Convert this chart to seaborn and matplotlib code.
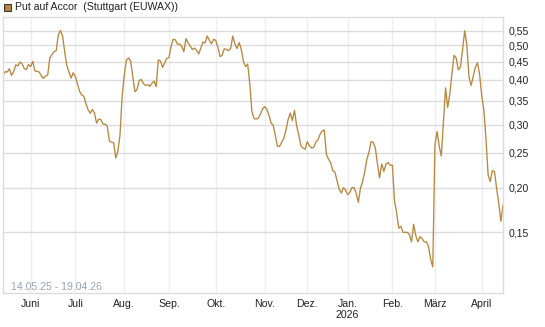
import matplotlib
matplotlib.use("Agg")
import matplotlib.pyplot as plt
import seaborn as sns
import pandas as pd
import numpy as np
from matplotlib.patches import Rectangle
from matplotlib.ticker import FixedLocator, NullLocator, FuncFormatter

# TRADING DAYS (EUWAX), 14.05.25 - 17.04.26
holidays = ["2025-12-24", "2025-12-25", "2025-12-26", "2025-12-31",
            "2026-01-01", "2026-04-03", "2026-04-06"]
dates = pd.bdate_range("2025-05-14", "2026-04-17", freq="C", holidays=holidays)

# CLOSING PRICES (EUR)
prices = [
    0.413, 0.422, 0.421, 0.430, 0.412, 0.422, 0.441, 0.438, 0.449, 0.444,
    0.430, 0.428, 0.442, 0.436, 0.451, 0.424, 0.423, 0.421, 0.411, 0.404,
    0.410, 0.413, 0.461, 0.472, 0.480, 0.483, 0.535, 0.550, 0.531, 0.480,
    0.439, 0.421, 0.405, 0.419, 0.409, 0.390, 0.372, 0.363, 0.360, 0.343,
    0.330, 0.323, 0.331, 0.323, 0.303, 0.311, 0.310, 0.301, 0.301, 0.297,
    0.270, 0.268, 0.267, 0.242, 0.253, 0.281, 0.361, 0.413, 0.455, 0.461,
    0.452, 0.409, 0.371, 0.376, 0.399, 0.401, 0.391, 0.386, 0.388, 0.384,
    0.392, 0.397, 0.383, 0.455, 0.452, 0.434, 0.447, 0.460, 0.462, 0.497,
    0.520, 0.518, 0.504, 0.504, 0.497, 0.480, 0.522, 0.508, 0.497, 0.487,
    0.491, 0.484, 0.473, 0.492, 0.511, 0.508, 0.531, 0.516, 0.505, 0.520,
    0.516, 0.494, 0.465, 0.469, 0.489, 0.487, 0.483, 0.490, 0.531, 0.505,
    0.490, 0.509, 0.487, 0.451, 0.436, 0.443, 0.390, 0.326, 0.312, 0.311,
    0.313, 0.321, 0.332, 0.337, 0.331, 0.319, 0.303, 0.299, 0.279, 0.261,
    0.261, 0.268, 0.275, 0.290, 0.310, 0.323, 0.308, 0.329, 0.298, 0.281,
    0.262, 0.258, 0.256, 0.269, 0.262, 0.258, 0.259, 0.268, 0.272, 0.282,
    0.288, 0.290, 0.248, 0.240, 0.235, 0.223, 0.221, 0.209, 0.198, 0.193,
    0.200, 0.197, 0.191, 0.194, 0.200, 0.200, 0.193, 0.182, 0.199, 0.208,
    0.221, 0.240, 0.251, 0.269, 0.268, 0.258, 0.233, 0.213, 0.233, 0.222,
    0.233, 0.235, 0.231, 0.231, 0.184, 0.170, 0.154, 0.156, 0.150, 0.150,
    0.150, 0.148, 0.141, 0.158, 0.147, 0.141, 0.146, 0.144, 0.141, 0.141,
    0.137, 0.126, 0.120, 0.263, 0.287, 0.262, 0.245, 0.306, 0.380, 0.335,
    0.365, 0.416, 0.469, 0.461, 0.427, 0.435, 0.486, 0.549, 0.502, 0.408,
    0.386, 0.409, 0.434, 0.447, 0.415, 0.361, 0.330, 0.274, 0.217, 0.208,
    0.223, 0.222, 0.199, 0.181, 0.161, 0.179,
]

month_labels = ["Juni", "Juli", "Aug.", "Sep.", "Okt.", "Nov.", "Dez.",
                "Jan.\n2026", "Feb.", "März", "April"]
y_ticks = [0.15, 0.20, 0.25, 0.30, 0.35, 0.40, 0.45, 0.50, 0.55]
title = "Put auf Accor  (Stuttgart (EUWAX))"
period = "14.05.25 - 19.04.26"

LINE = "#b8873d"
GRID_H = "#dcdcdc"
GRID_V = "#eeeeee"

df = pd.DataFrame({"date": dates, "price": prices})
df["day"] = np.arange(len(df))
month_start = df.groupby(df["date"].dt.to_period("M"))["day"].min().iloc[1:]

sns.set_theme(style="white")
plt.rcParams["font.family"] = ["Liberation Sans", "DejaVu Sans"]

W, H = 545, 327
fig = plt.figure(figsize=(W / 100, H / 100), dpi=100)
ax = fig.add_axes([3 / W, 1 - 293 / H, 500 / W, 276 / H])

sns.lineplot(data=df, x="day", y="price", color=LINE, lw=0.95, ax=ax)

ax.set_yscale("log")
ax.set_xlim(0, len(df) - 1)
ax.set_ylim(0.1015, 0.60)

# Y AXIS ON THE RIGHT, GERMAN DECIMAL COMMA
ax.yaxis.tick_right()
ax.yaxis.set_major_locator(FixedLocator(y_ticks))
ax.yaxis.set_minor_locator(NullLocator())
ax.yaxis.set_major_formatter(FuncFormatter(lambda v, p: f"{v:.2f}".replace(".", ",")))

ax.set_xticks(month_start.values)
ax.set_xticklabels(month_labels)

ax.tick_params(axis="both", length=0, labelsize=7.6, colors="#222222")
ax.tick_params(axis="x", pad=4)
ax.tick_params(axis="y", pad=4)
ax.set_xlabel("")
ax.set_ylabel("")

ax.grid(axis="y", color=GRID_H, lw=1)
ax.grid(axis="x", color=GRID_V, lw=1)
ax.set_axisbelow(True)
for s in ax.spines.values():
    s.set_color(GRID_H)
    s.set_linewidth(1)

ax.text(8 / 500, 0.004, period, transform=ax.transAxes, fontsize=7.6,
        color="#9aa3b4", ha="left", va="bottom")

# LEGEND BOX ON TOP
fig.patches.append(Rectangle((4 / W, 1 - 11 / H), 7 / W, 7 / H, transform=fig.transFigure,
                             facecolor=LINE, edgecolor="#3a3a3a", lw=0.8))
fig.text(15 / W, 1 - 7.5 / H, title, fontsize=7.6, color="#222222", ha="left", va="center")

fig.savefig("out.png", dpi=100)
